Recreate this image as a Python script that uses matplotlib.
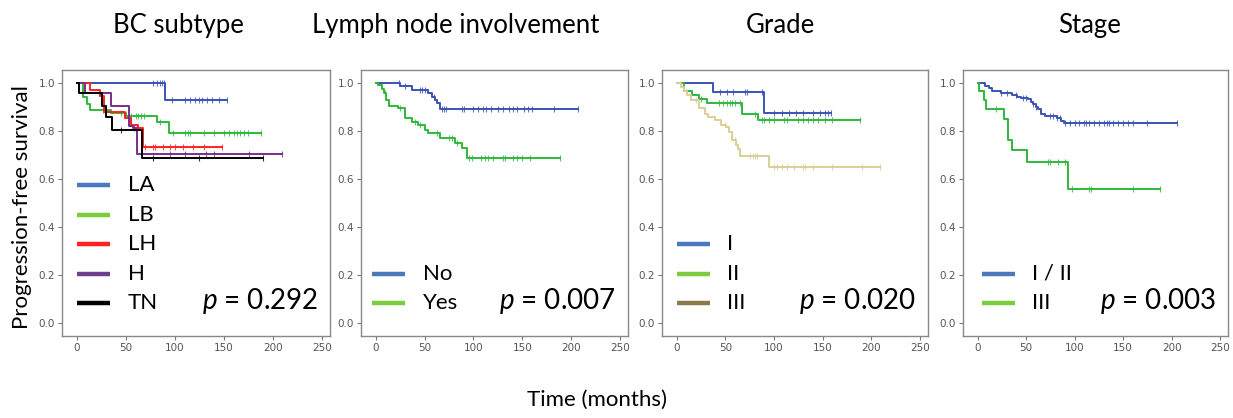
import numpy as np
import matplotlib
matplotlib.use("Agg")
import matplotlib.pyplot as plt

plt.rcParams['font.family'] = ['Lato', 'DejaVu Sans']
plt.rcParams['mathtext.fontset'] = 'custom'
plt.rcParams['mathtext.it'] = 'Lato:italic'
plt.rcParams['mathtext.rm'] = 'Lato'

# ---- data ----
# BC subtype
la_t = [0, 90];  la_s = [1.0, 0.93];  la_end = 153
la_c = [78, 82, 85, 87, 89, 97, 110, 115, 120, 125, 128, 133, 138, 145, 153]
lb_t = [0, 6, 10, 14, 35, 50, 82, 94]
lb_s = [1.0, 0.94, 0.91, 0.888, 0.875, 0.862, 0.835, 0.79];  lb_end = 188
lb_c = [27, 45, 55, 60, 62, 65, 68, 85, 98, 110, 113, 115, 130, 140, 150, 155, 160, 163, 166, 170, 174, 188]
lh_t = [0, 14, 24, 28, 49, 55, 62, 67]
lh_s = [1.0, 0.972, 0.943, 0.88, 0.852, 0.823, 0.81, 0.732];  lh_end = 148
lh_c = [70, 78, 80, 88, 95, 100, 108, 118, 130, 148]
h_t = [0, 8, 35, 53, 57, 61]
h_s = [1.0, 0.957, 0.905, 0.82, 0.81, 0.703];  h_end = 209
h_c = [58, 95, 110, 132, 140, 175, 209]
tn_t = [0, 2, 26, 30, 36, 66]
tn_s = [1.0, 0.957, 0.905, 0.857, 0.803, 0.688];  tn_end = 190
tn_c = [45, 78, 125, 190]

# Lymph node involvement
no_t = [0, 25, 37, 54, 58, 61, 63, 66]
no_s = [1.0, 0.988, 0.97, 0.956, 0.942, 0.93, 0.914, 0.89];  no_end = 207
no_c = [24, 30, 45, 47, 50, 60, 68, 70, 72, 88, 90, 100, 105, 110, 113, 118,
        125, 130, 136, 140, 145, 152, 156, 160, 182, 207]
yes_t = [0, 2, 6, 8, 11, 14, 23, 30, 37, 43, 50, 54, 66, 81, 88, 93]
yes_s = [1.0, 0.99, 0.976, 0.956, 0.928, 0.903, 0.893, 0.852, 0.838, 0.824,
         0.803, 0.79, 0.77, 0.748, 0.727, 0.688];  yes_end = 188
yes_c = [10, 25, 40, 45, 63, 75, 78, 83, 95, 98, 108, 112, 115, 120, 130, 132,
         140, 145, 150, 158, 188]

# Grade
g1_t = [0, 37, 90];  g1_s = [1.0, 0.96, 0.874];  g1_end = 158
g1_c = [45, 52, 58, 70, 72, 88, 100, 108, 115, 123, 130, 140, 147, 152, 155, 158]
g2_t = [0, 8, 16, 23, 31, 67, 84]
g2_s = [1.0, 0.967, 0.951, 0.934, 0.914, 0.872, 0.844];  g2_end = 188
g2_c = [25, 43, 48, 52, 55, 57, 60, 65, 80, 88, 90, 95, 100, 110, 113, 125,
        130, 135, 140, 145, 152, 160, 188]
g3_t = [0, 4, 8, 11, 15, 23, 29, 32, 39, 46, 51, 54, 57, 61, 63, 65, 95]
g3_s = [1.0, 0.983, 0.967, 0.948, 0.927, 0.897, 0.872, 0.858, 0.844, 0.823,
        0.816, 0.795, 0.76, 0.739, 0.725, 0.697, 0.649];  g3_end = 209
g3_c = [10, 20, 50, 60, 75, 78, 80, 83, 100, 103, 108, 113, 120, 130, 132,
        140, 160, 190, 209]

# Stage
s12_t = [0, 8, 12, 15, 24, 36, 41, 45, 52, 55, 57, 60, 62, 65, 70, 82, 86, 89]
s12_s = [1.0, 0.988, 0.978, 0.964, 0.956, 0.949, 0.942, 0.936, 0.932, 0.918,
         0.911, 0.9, 0.89, 0.87, 0.863, 0.853, 0.842, 0.831];  s12_end = 205
s12_c = [24, 30, 40, 47, 50, 57, 60, 75, 78, 82, 85, 90, 95, 100, 105, 110,
         112, 115, 120, 125, 130, 133, 135, 140, 145, 150, 155, 160, 175, 205]
s3_t = [0, 2, 7, 9, 27, 31, 36, 51, 93]
s3_s = [1.0, 0.964, 0.928, 0.89, 0.849, 0.763, 0.72, 0.669, 0.558];  s3_end = 188
s3_c = [19, 73, 75, 83, 90, 97, 115, 117, 160, 188]

titles = ["BC subtype", "Lymph node involvement", "Grade", "Stage"]
pvals = ["0.292", "0.007", "0.020", "0.003"]

BLUE, GREEN, RED, PURPLE, BLACK, TAN = "#3a53b5", "#2fb83c", "#ff2222", "#7b2d8c", "#000000", "#d9cf96"
LBLUE, LGREEN, LOLIVE, LPURPLE = "#4a78bd", "#7ccc3f", "#8a7a4e", "#6d3f8c"

panels = [
    [(la_t, la_s, la_end, la_c, BLUE), (lb_t, lb_s, lb_end, lb_c, GREEN),
     (lh_t, lh_s, lh_end, lh_c, RED), (h_t, h_s, h_end, h_c, PURPLE),
     (tn_t, tn_s, tn_end, tn_c, BLACK)],
    [(no_t, no_s, no_end, no_c, BLUE), (yes_t, yes_s, yes_end, yes_c, GREEN)],
    [(g1_t, g1_s, g1_end, g1_c, BLUE), (g2_t, g2_s, g2_end, g2_c, GREEN),
     (g3_t, g3_s, g3_end, g3_c, TAN)],
    [(s12_t, s12_s, s12_end, s12_c, BLUE), (s3_t, s3_s, s3_end, s3_c, GREEN)],
]
legends = [
    (["LA", "LB", "LH", "H", "TN"], [LBLUE, LGREEN, RED, LPURPLE, BLACK]),
    (["No", "Yes"], [LBLUE, LGREEN]),
    (["I", "II", "III"], [LBLUE, LGREEN, LOLIVE]),
    (["I / II", "III"], [LBLUE, LGREEN]),
]

fig = plt.figure(figsize=(12.33, 4.18), dpi=100)
lefts = [0.0503, 0.2928, 0.5369, 0.781]
widths = [0.2174, 0.2165, 0.2157, 0.2149]
title_x = [0.433, 0.356, 0.444, 0.479]
leg_x = [0.056, 0.041, 0.056, 0.072]

for i in range(4):
    ax = fig.add_axes([lefts[i], 0.196, widths[i], 0.6364])
    for t, s, end, cens, col in panels[i]:
        tt = list(t) + [end]
        ss = list(s) + [s[-1]]
        ax.step(tt, ss, where='post', color=col, lw=1.4, zorder=3)
        idx = np.searchsorted(np.array(t), np.array(cens), side='right') - 1
        ax.plot(cens, np.array(s)[idx], ls='none', marker='|', ms=4,
                mew=0.8, color=col, alpha=0.8, zorder=3)
    ax.set_xlim(-15, 258)
    ax.set_ylim(-0.055, 1.053)
    ax.set_xticks([0, 50, 100, 150, 200, 250])
    ax.set_yticks([0.0, 0.2, 0.4, 0.6, 0.8, 1.0])
    ax.set_yticklabels(["0.0", "0.2", "0.4", "0.6", "0.8", "1.0"])
    ax.tick_params(labelsize=7.5, labelcolor="#555555", color="#777777",
                   length=3, width=0.8, pad=2)
    for lab in ax.get_xticklabels() + ax.get_yticklabels():
        lab.set_family("DejaVu Sans")
    for sp in ax.spines.values():
        sp.set_color("#888888")
        sp.set_linewidth(1.0)
    ax.text(title_x[i], 1.14, titles[i], transform=ax.transAxes,
            ha='center', va='baseline', fontsize=18.5)

    # legend drawn by hand so the rows sit where the reference has them
    names, cols = legends[i]
    n = len(names)
    for k in range(n):
        yy = 0.124 + (n - 1 - k) * 0.111
        ax.plot([leg_x[i], leg_x[i] + 0.123], [yy, yy], transform=ax.transAxes,
                color=cols[k], lw=3.2, solid_capstyle='butt', clip_on=False)
        ax.text(leg_x[i] + 0.19, yy, names[k], transform=ax.transAxes,
                ha='left', va='center', fontsize=16)
    ax.text(0.955, 0.133, "$p$ = " + pvals[i], transform=ax.transAxes,
            ha='right', va='center', fontsize=20)

fig.text(0.018, 0.505, "Progression-free survival", rotation=90,
         ha='center', va='center', fontsize=16)
fig.text(0.484, 0.043, "Time (months)", ha='center', va='center', fontsize=16)

fig.savefig("out.png", dpi=100)
